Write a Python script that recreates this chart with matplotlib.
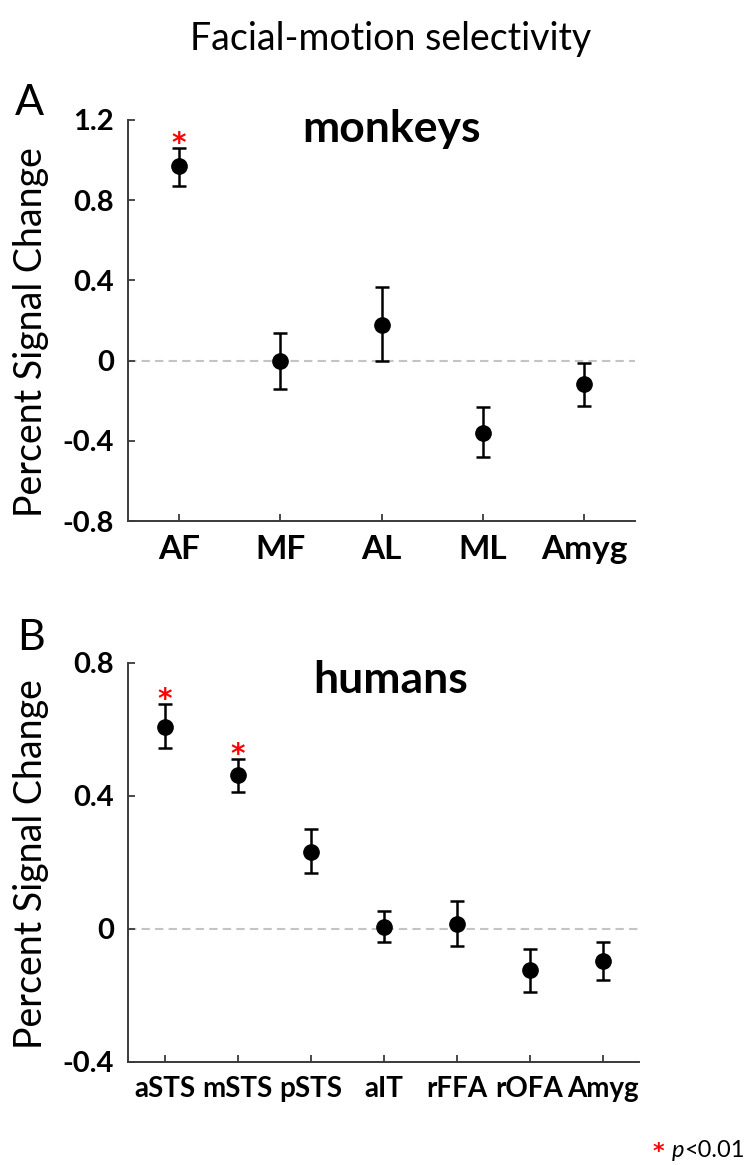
import matplotlib
matplotlib.use("Agg")
import matplotlib.pyplot as plt

plt.rcParams["font.family"] = ["Lato", "DejaVu Sans"]

# Panel A: monkeys
names_a = ["AF", "MF", "AL", "ML", "Amyg"]
mean_a = [0.97, 0.0, 0.18, -0.36, -0.115]
upper_a = [1.06, 0.14, 0.365, -0.23, -0.01]
lower_a = [0.87, -0.14, 0.0, -0.48, -0.225]
sig_a = [True, False, False, False, False]
yticks_a = [-0.8, -0.4, 0, 0.4, 0.8, 1.2]
yticklabels_a = ["-0.8", "-0.4", "0", "0.4", "0.8", "1.2"]

# Panel B: humans
names_b = ["aSTS", "mSTS", "pSTS", "aIT", "rFFA", "rOFA", "Amyg"]
mean_b = [0.606, 0.462, 0.232, 0.006, 0.016, -0.124, -0.096]
upper_b = [0.675, 0.512, 0.30, 0.053, 0.083, -0.059, -0.039]
lower_b = [0.543, 0.41, 0.167, -0.039, -0.052, -0.19, -0.154]
sig_b = [True, True, False, False, False, False, False]
yticks_b = [-0.4, 0, 0.4, 0.8]
yticklabels_b = ["-0.4", "0", "0.4", "0.8"]

SPINE = "#3a3a3a"
W, H = 752, 1165

fig = plt.figure(figsize=(W / 100, H / 100), dpi=100)


def draw_panel(rect, names, mean, upper, lower, sig, yticks, ylabels,
               title, title_y, xsize):
    ax = fig.add_axes(rect)
    x = list(range(1, len(names) + 1))
    yerr = [[m - lo for m, lo in zip(mean, lower)],
            [up - m for m, up in zip(mean, upper)]]
    ax.axhline(0, color="#c4c4c4", lw=1.5, ls=(0, (4, 2.5)), zorder=0)
    ax.errorbar(x, mean, yerr=yerr, fmt="o", color="black", ms=11,
                elinewidth=1.8, capsize=5, capthick=1.8, zorder=3)
    # significance stars
    for xi, up, s in zip(x, upper, sig):
        if s:
            ax.annotate("*", (xi, up), xytext=(0, -3), textcoords="offset points",
                        ha="center", va="baseline", color="red", fontsize=20,
                        fontweight="bold", family="DejaVu Sans")
    ax.set_xlim(0.5, len(names) + 0.5)
    ax.set_ylim(yticks[0], yticks[-1])
    ax.set_xticks(x)
    ax.set_xticklabels(names, fontsize=xsize, fontweight="bold")
    ax.set_yticks(yticks)
    ax.set_yticklabels(ylabels, fontsize=21, fontweight="bold")
    for side in ["top", "right"]:
        ax.spines[side].set_visible(False)
    for side in ["left", "bottom"]:
        ax.spines[side].set_color(SPINE)
        ax.spines[side].set_linewidth(1.4)
    ax.tick_params(direction="in", length=5, width=1.3, color=SPINE)
    ax.tick_params(axis="x", pad=10)
    ax.tick_params(axis="y", pad=10)
    fig.text(0.52, title_y, title, ha="center", va="baseline",
             fontsize=32, fontweight="bold")
    return ax


ax_a = draw_panel([128 / W, 1 - 521 / H, 507 / W, 401 / H],
                  names_a, mean_a, upper_a, lower_a, sig_a,
                  yticks_a, yticklabels_a, "monkeys", 1 - 142 / H, 24)
ax_b = draw_panel([128 / W, 1 - 1062 / H, 511 / W, 399.3 / H],
                  names_b, mean_b, upper_b, lower_b, sig_b,
                  yticks_b, yticklabels_b, "humans", 1 - 693 / H, 20)

# y labels
fig.text(31 / W, 1 - 332 / H, "Percent Signal Change", rotation=90,
         ha="center", va="center", fontsize=27)
fig.text(31 / W, 1 - 864 / H, "Percent Signal Change", rotation=90,
         ha="center", va="center", fontsize=27)

# panel letters and title
fig.text(15 / W, 1 - 115 / H, "A", fontsize=31, va="baseline")
fig.text(17 / W, 1 - 650 / H, "B", fontsize=31, va="baseline")
fig.text(0.52, 1 - 50 / H, "Facial-motion selectivity", ha="center",
         va="baseline", fontsize=27)

# significance legend
fig.text(653 / W, 1 - 1158 / H, "*", color="red", fontsize=16,
         fontweight="bold", family="DejaVu Sans", va="baseline")
fig.text(672 / W, 1 - 1157 / H, "p", fontsize=17, style="italic",
         va="baseline")
fig.text(684 / W, 1 - 1157 / H, "<0.01", fontsize=17, va="baseline")

fig.savefig("out.png", dpi=100)
